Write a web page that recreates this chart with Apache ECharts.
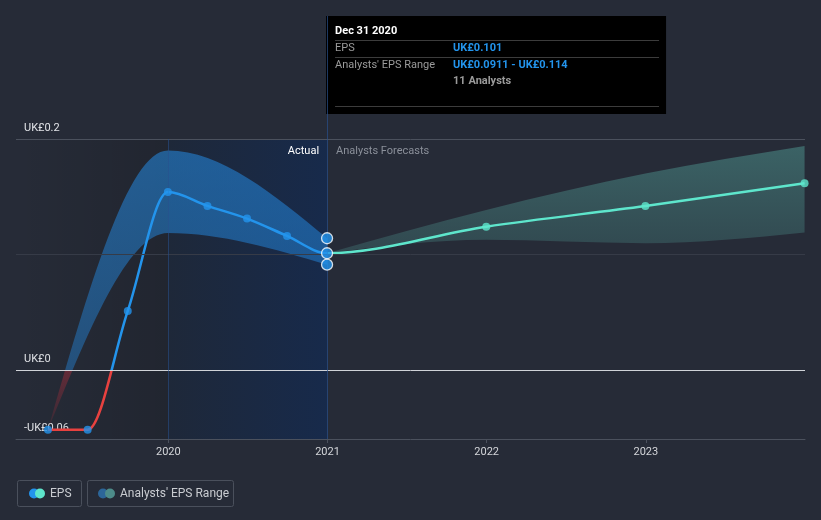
<!DOCTYPE html>
<html><head><meta charset="utf-8">
<script src="https://cdn.jsdelivr.net/npm/echarts@6/dist/echarts.min.js"></script>
<style>html,body{margin:0;padding:0;background:#262b37;} #c{width:821px;height:520px;} #err{position:absolute;left:0;top:0;color:#ff0;font:10px monospace;white-space:pre;}</style>
</head><body><div id="c"></div><div id="err"></div>
<script>
// ---- data ----
const actualDates = ['2019-03-31','2019-06-30','2019-09-30','2019-12-31','2020-03-31','2020-06-30','2020-09-30','2020-12-31'];
const actualEps   = [-0.052,-0.052,0.051,0.154,0.142,0.131,0.116,0.101];
const actualBandDates = ['2019-03-31','2019-12-31','2020-12-31'];
const actualLow   = [-0.052,0.1186,0.0911];
const actualHigh  = [-0.052,0.190,0.114];
const forecastDates = ['2020-12-31','2021-12-31','2022-12-31','2023-12-31'];
const forecastEps   = [0.101,0.124,0.142,0.1616];
const forecastLow   = [0.101,0.1126,0.1097,0.1189];
const forecastHigh  = [0.101,0.1385,0.170,0.194];
const yTickValues = [-0.06,0,0.2];
const yGridValues = [0.2,0.1];
const xTickYears = [2020,2021,2022,2023];
const analystCount = 11;
const tooltipDateLabel = 'Dec 31 2020';

(function(){
try {
function yf(s){const d=new Date(s+'T00:00:00Z');const y=d.getUTCFullYear();const a=Date.UTC(y,0,1),b=Date.UTC(y+1,0,1);return y+(d-a)/(b-a);}
const pairs=(ds,vs)=>ds.map((d,i)=>[yf(d),vs[i]]);
const fmt=v=>(v<0?'-':'')+'UK£'+Math.abs(v);
const lastI=actualDates.length-1;
const lastX=yf(actualDates[lastI]);
const lastBand=actualBandDates.length-1;

const FONT='Roboto, "Noto Sans", sans-serif';
const chart=echarts.init(document.getElementById('c'),null,{renderer:'canvas'});

const GL=16,GR=16,GT=139,GB=81;
function yPix(v){return GT+(0.2-v)/(0.2-(-0.06))*(520-GT-GB);}
const pTop=yPix(0.2),pZero=yPix(0),pBot=yPix(-0.06);

function bandGradient(t,z,b){
  const f=(z-t)/(b-t);
  return {type:'linear',x:0,y:t,x2:0,y2:b,global:true,colorStops:[
    {offset:0,color:'rgba(36,140,230,0.55)'},
    {offset:Math.max(0,f-0.001),color:'rgba(36,140,230,0.40)'},
    {offset:Math.min(1,f+0.001),color:'rgba(150,45,58,0.55)'},
    {offset:1,color:'rgba(150,45,58,0.10)'}]};
}
function lineGradient(t,z,b){
  const f=(z-t)/(b-t);
  return {type:'linear',x:0,y:t,x2:0,y2:b,global:true,colorStops:[
    {offset:0,color:'#2394ec'},{offset:f,color:'#2394ec'},{offset:f,color:'#e8413f'},{offset:1,color:'#e8413f'}]};
}

// monotone-x cubic (d3 curveMonotoneX style) segments through pixel points
function monoSegs(p){
  const n=p.length,h=[],s=[],t=[];
  const sg=v=>v<0?-1:(v>0?1:0);
  for(let i=0;i<n-1;i++){h[i]=p[i+1][0]-p[i][0];s[i]=(p[i+1][1]-p[i][1])/h[i];}
  for(let i=1;i<n-1;i++){
    const q=(s[i-1]*h[i]+s[i]*h[i-1])/(h[i-1]+h[i]);
    t[i]=(sg(s[i-1])+sg(s[i]))*Math.min(Math.abs(s[i-1]),Math.abs(s[i]),0.5*Math.abs(q))||0;
  }
  if(n===2){t[0]=s[0];t[1]=s[0];}
  else{t[0]=(3*s[0]-t[1])/2;t[n-1]=(3*s[n-2]-t[n-2])/2;}
  const c=[];
  for(let i=0;i<n-1;i++){const k=h[i]/3;c.push([p[i][0]+k,p[i][1]+t[i]*k,p[i+1][0]-k,p[i+1][1]-t[i+1]*k]);}
  return c;
}
function pathPart(p,c,i0,i1){
  let d='M'+p[i0][0]+' '+p[i0][1];
  for(let i=i0;i<i1;i++){d+=' C'+c[i][0]+' '+c[i][1]+' '+c[i][2]+' '+c[i][3]+' '+p[i+1][0]+' '+p[i+1][1];}
  return d;
}
function bandPath(upper,lower){
  const su=monoSegs(upper),sl=monoSegs(lower);
  let d=pathPart(upper,su,0,upper.length-1);
  const n=lower.length;
  d+=' L'+lower[n-1][0]+' '+lower[n-1][1];
  for(let i=sl.length-1;i>=0;i--){const c=sl[i];d+=' C'+c[2]+' '+c[3]+' '+c[0]+' '+c[1]+' '+lower[i][0]+' '+lower[i][1];}
  return d+' Z';
}
function bandSeries(dates,lo,hi,fill){
  return {type:'custom',data:[0],z:2,silent:true,clip:true,
    renderItem:function(params,api){
      const up=dates.map((d,i)=>api.coord([yf(d),hi[i]]));
      const dn=dates.map((d,i)=>api.coord([yf(d),lo[i]]));
      return {type:'path',shape:{pathData:bandPath(up,dn)},style:{fill:fill}};
    }};
}
// EPS: one continuous curve (actual + forecast), coloured per part
const epsDates=actualDates.concat(forecastDates.slice(1));
const epsVals=actualEps.concat(forecastEps.slice(1));
const epsLineSeries={type:'custom',data:[0],z:4,silent:true,clip:true,
  renderItem:function(params,api){
    const p=epsDates.map((d,i)=>api.coord([yf(d),epsVals[i]]));
    const c=monoSegs(p);
    return {type:'group',children:[
      {type:'path',shape:{pathData:pathPart(p,c,0,lastI)},style:{fill:'none',stroke:lineGradient(pTop,pZero,pBot),lineWidth:2.5,lineJoin:'round'}},
      {type:'path',shape:{pathData:pathPart(p,c,lastI,p.length-1)},style:{fill:'none',stroke:'#5ee6cc',lineWidth:2.5,lineJoin:'round'}}
    ]};
  }};

const option={
  backgroundColor:'#262b37',
  animation:false,
  textStyle:{fontFamily:FONT},
  grid:{left:GL,right:GR,top:GT,bottom:GB},
  xAxis:{type:'value',min:2019.043,max:2024.0,
    splitLine:{show:false},
    axisLine:{show:true,onZero:false,lineStyle:{color:'#4b515d',width:1}},
    axisTick:{show:true,customValues:xTickYears,length:4,lineStyle:{color:'#4b515d'}},
    axisLabel:{customValues:xTickYears,color:'#d4d6da',fontSize:11,margin:8,fontFamily:FONT,formatter:v=>String(Math.round(v))}
  },
  yAxis:{type:'value',min:-0.06,max:0.2,
    splitLine:{show:false},axisLine:{show:false},axisTick:{show:false},
    axisLabel:{customValues:yTickValues,inside:true,margin:8,color:'#e2e4e8',fontSize:11,fontFamily:FONT,
      verticalAlign:'bottom',padding:[0,0,5,0],formatter:fmt}
  },
  series:[
    {type:'line',data:[],z:0,silent:true,
      markArea:{silent:true,data:[
        [{xAxis:2019.043,itemStyle:{color:{type:'linear',x:0,y:0,x2:1,y2:0,colorStops:[{offset:0,color:'rgba(0,0,0,0)'},{offset:1,color:'rgba(0,0,0,0.13)'}]}}},{xAxis:2020}],
        [{xAxis:2020,itemStyle:{color:{type:'linear',x:0,y:0,x2:1,y2:0,colorStops:[{offset:0,color:'#1e2839'},{offset:1,color:'#172a4b'}]}}},{xAxis:lastX}]
      ]},
      markLine:{silent:true,symbol:'none',label:{show:false},data:[
        {yAxis:yGridValues[0],lineStyle:{color:'#4b515d',width:1,type:'solid'}},
        {yAxis:yGridValues[1],lineStyle:{color:'#363b47',width:1,type:'solid'}},
        {yAxis:0,lineStyle:{color:'#d0d3d8',width:1,type:'solid'}},
        {xAxis:2020,lineStyle:{color:'rgba(40,80,140,0.55)',width:1,type:'solid'}},
        {xAxis:lastX,lineStyle:{color:'rgba(40,80,140,0.7)',width:1,type:'solid'}}
      ]}
    },
    bandSeries(actualBandDates,actualLow,actualHigh,bandGradient(pTop,pZero,pBot)),
    bandSeries(forecastDates,forecastLow,forecastHigh,{type:'linear',x:0,y:0,x2:0,y2:1,colorStops:[{offset:0,color:'rgba(88,175,165,0.42)'},{offset:1,color:'rgba(88,175,165,0.22)'}]}),
    epsLineSeries,
    {type:'scatter',data:pairs(actualDates,actualEps).slice(0,lastI),symbolSize:8,itemStyle:{color:'#2394ec'},z:5,silent:true},
    {type:'scatter',data:pairs(forecastDates,forecastEps).slice(1),symbolSize:8,itemStyle:{color:'#5ee6cc'},z:5,silent:true},
    {type:'scatter',data:[[lastX,actualHigh[lastBand]],[lastX,actualEps[lastI]],[lastX,actualLow[lastBand]]],symbolSize:11,
      itemStyle:{color:'#2394ec',borderColor:'#ffffff',borderWidth:1.3},z:10,silent:true}
  ]
};

const px=GL+(lastX-2019.043)/(2024-2019.043)*(821-GL-GR);
const ttRows=[
  {label:'EPS',value:'UK£'+actualEps[lastI]},
  {label:"Analysts' EPS Range",value:'UK£'+actualLow[lastBand]+' - UK£'+actualHigh[lastBand]}
];
option.graphic=[
    {type:'line',z:1,silent:true,shape:{x1:Math.round(px)+0.5,y1:16,x2:Math.round(px)+0.5,y2:pTop},style:{stroke:'rgba(40,80,140,0.7)',lineWidth:1}},
    {type:'text',z:20,x:px-8,y:pTop+12,style:{text:'Actual',fill:'#ffffff',font:'11px '+FONT,align:'right',verticalAlign:'middle'}},
    {type:'text',z:20,x:px+9,y:pTop+12,style:{text:'Analysts Forecasts',fill:'#8b909a',font:'11px '+FONT,align:'left',verticalAlign:'middle'}},
    {type:'group',z:30,children:[
      {type:'rect',shape:{x:px-1,y:16,width:340,height:98},style:{fill:'#000000'}},
      {type:'text',x:px+8,y:31,style:{text:tooltipDateLabel,fill:'#ffffff',font:'bold 11px '+FONT,verticalAlign:'middle'}},
      {type:'line',shape:{x1:px+8,y1:40.5,x2:px+332,y2:40.5},style:{stroke:'#3c3c3c',lineWidth:1}},
      {type:'text',x:px+8,y:48,style:{text:ttRows[0].label,fill:'#9b9b9b',font:'11px '+FONT,verticalAlign:'middle'}},
      {type:'text',x:px+126,y:48,style:{text:ttRows[0].value,fill:'#2394ec',font:'bold 11px '+FONT,verticalAlign:'middle'}},
      {type:'line',shape:{x1:px+8,y1:57.5,x2:px+332,y2:57.5},style:{stroke:'#3c3c3c',lineWidth:1}},
      {type:'text',x:px+8,y:65,style:{text:ttRows[1].label,fill:'#9b9b9b',font:'11px '+FONT,verticalAlign:'middle'}},
      {type:'text',x:px+126,y:65,style:{text:ttRows[1].value,fill:'#2394ec',font:'bold 11px '+FONT,verticalAlign:'middle'}},
      {type:'text',x:px+126,y:81,style:{text:analystCount+' Analysts',fill:'#9b9b9b',font:'bold 11px '+FONT,verticalAlign:'middle'}},
      {type:'line',shape:{x1:px+8,y1:106.5,x2:px+332,y2:106.5},style:{stroke:'#3c3c3c',lineWidth:1}}
    ]},
    {type:'group',z:30,children:[
      {type:'rect',shape:{x:17.5,y:480.5,width:64,height:26,r:2},style:{fill:'none',stroke:'#4a505c',lineWidth:1}},
      {type:'circle',shape:{cx:34,cy:493.5,r:5},style:{fill:'#2394ec'}},
      {type:'circle',shape:{cx:40,cy:493.5,r:5},style:{fill:'#5ee6cc'}},
      {type:'text',x:50,y:494,style:{text:'EPS',fill:'#c9ccd1',font:'12px '+FONT,verticalAlign:'middle'}},
      {type:'rect',shape:{x:87.5,y:480.5,width:146,height:26,r:2},style:{fill:'none',stroke:'#4a505c',lineWidth:1}},
      {type:'circle',shape:{cx:103,cy:493.5,r:5},style:{fill:'#2c6699'}},
      {type:'circle',shape:{cx:110,cy:493.5,r:5},style:{fill:'#4d8c8a'}},
      {type:'text',x:120,y:494,style:{text:"Analysts' EPS Range",fill:'#c9ccd1',font:'12px '+FONT,verticalAlign:'middle'}}
    ]}
];
chart.setOption(option);
} catch(e) { document.getElementById('err').textContent = e.stack; }
})();
</script></body></html>
